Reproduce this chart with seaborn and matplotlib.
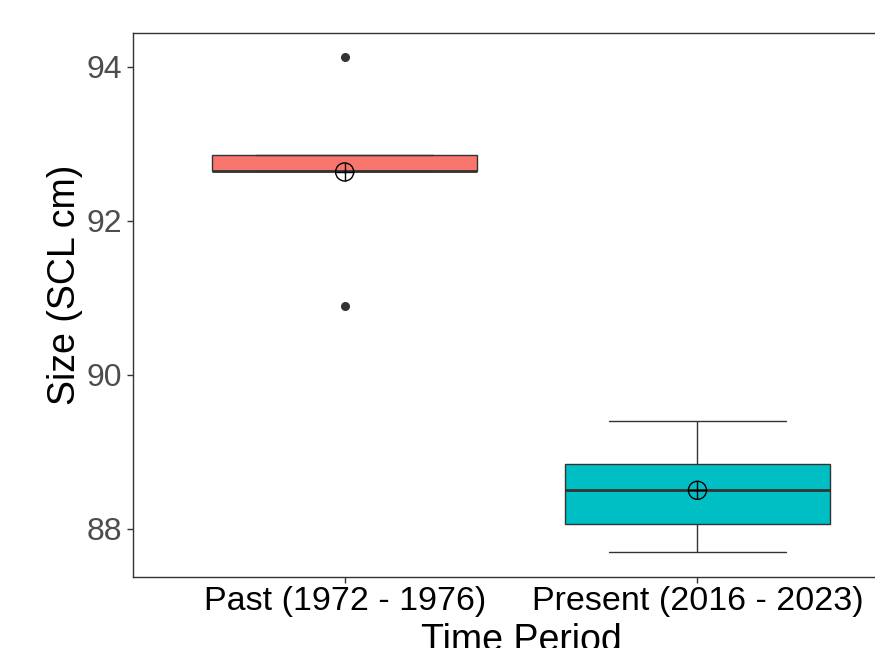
import numpy as np
import pandas as pd
import matplotlib
matplotlib.use('Agg')
import matplotlib.pyplot as plt
import seaborn as sns

sns.set_style('white')
plt.rcParams['font.family'] = ['Liberation Sans', 'DejaVu Sans']

# sizes (SCL cm)
periods = ['Past (1972 - 1976)', 'Present (2016 - 2023)']
past_sizes = [90.9, 92.65, 92.65, 92.85, 94.13]
present_sizes = [87.7, 88.06, 88.5, 88.85, 89.4]
colors = ['#F8766D', '#00BFC4']

df = pd.DataFrame({
    'period': [periods[0]] * len(past_sizes) + [periods[1]] * len(present_sizes),
    'size': past_sizes + present_sizes,
})

fig = plt.figure(figsize=(8.75, 6.48), dpi=100)
ax = fig.add_axes([0.152, 0.110, 0.887, 0.839])

sns.boxplot(data=df, x='period', y='size', hue='period', palette=colors,
            order=periods, hue_order=periods, width=0.75, legend=False,
            saturation=1, linecolor='#333333', linewidth=1, capwidths=0.5,
            medianprops=dict(color='#333333', linewidth=2),
            flierprops=dict(marker='o', markerfacecolor='#333333',
                            markeredgecolor='#333333', markersize=5.5),
            ax=ax)

# mean markers (circle with cross)
means = df.groupby('period', sort=False)['size'].mean().reindex(periods)
ax.scatter(range(len(periods)), means.values, s=170, marker='o',
           facecolors='none', edgecolors='black', linewidths=1, zorder=5)
ax.scatter(range(len(periods)), means.values, s=170, marker='+',
           color='black', linewidths=1, zorder=5)

ax.set_xlim(-0.6, 1.6)
ax.set_ylim(87.38, 94.44)
ax.set_yticks([88, 90, 92, 94])

ax.set_xlabel('Time Period', fontsize=27, color='black', labelpad=4)
ax.set_ylabel('Size (SCL cm)', fontsize=27, color='black')
ax.yaxis.set_label_coords(-0.064, 0.537)
ax.tick_params(axis='y', labelsize=23, labelcolor='#4D4D4D', length=4,
               color='#333333', width=1, left=True, pad=4)
ax.tick_params(axis='x', labelsize=24.5, labelcolor='black', length=4,
               color='#333333', width=1, bottom=True, pad=3)

for side in ['left', 'bottom', 'top', 'right']:
    ax.spines[side].set_visible(True)
    ax.spines[side].set_color('#333333')
    ax.spines[side].set_linewidth(1)

fig.savefig('out.png', dpi=100)
